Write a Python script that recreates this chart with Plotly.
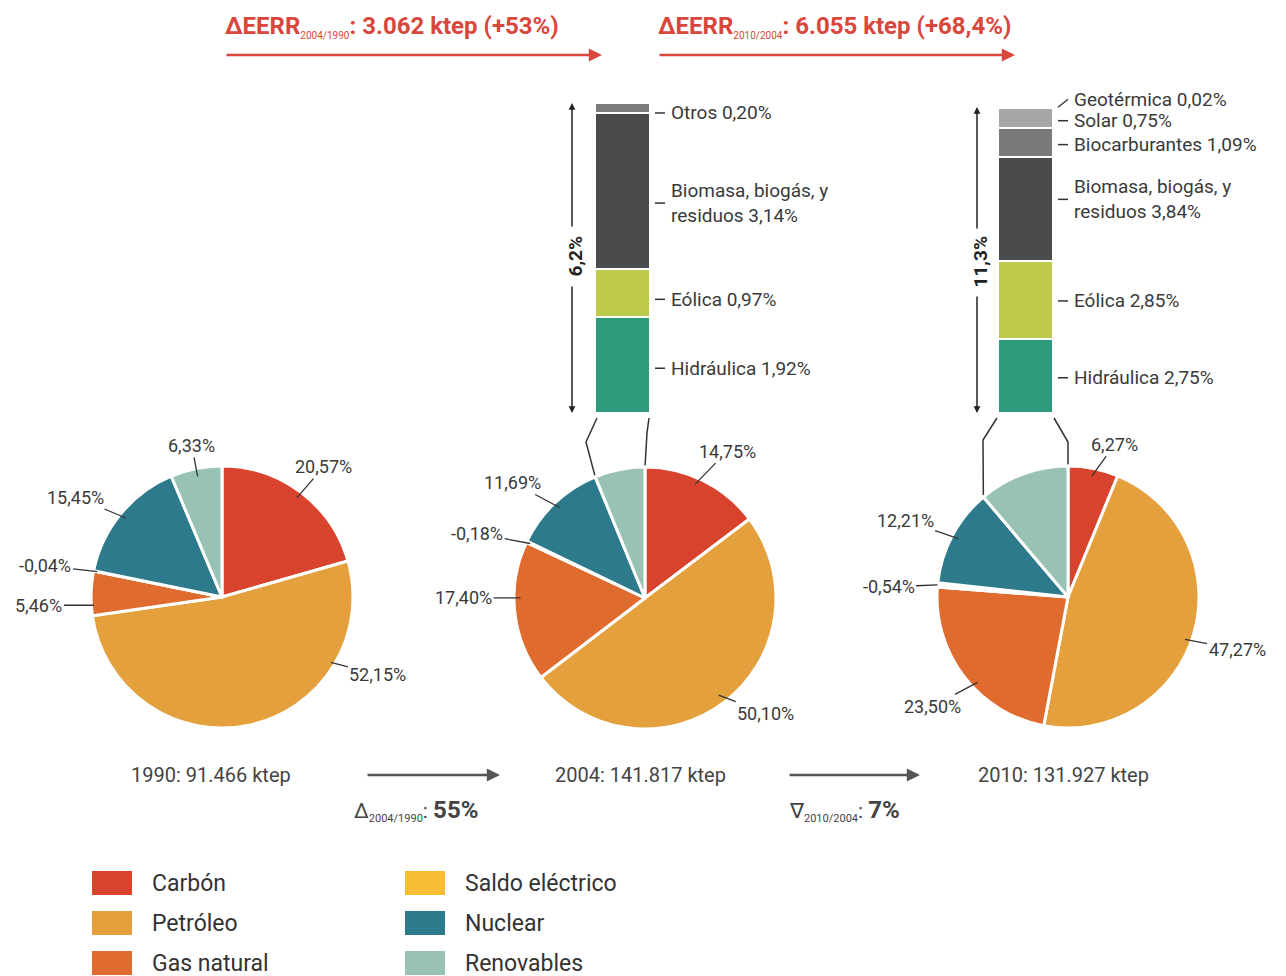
import math
import plotly.graph_objects as go

W, H = 1286, 976
FONT = "Roboto"
TXT = "#3a3a3a"

# ---- data -------------------------------------------------------------
sources = ["Carbón", "Petróleo", "Gas natural", "Saldo eléctrico", "Nuclear", "Renovables"]
source_colors = ["#D8432E", "#E5A03E", "#DF6B2E", "#F8BD35", "#2C7A8B", "#98C3B4"]

years = ["1990", "2004", "2010"]
totals_ktep = ["91.466", "141.817", "131.927"]
share_1990 = [20.57, 52.15, 5.46, -0.04, 15.45, 6.33]
share_2004 = [14.75, 50.10, 17.40, -0.18, 11.69, 6.23]
share_2010 = [6.27, 47.27, 23.50, -0.54, 12.21, 11.30]
shares = [share_1990, share_2004, share_2010]

renov_2004_labels = ["Hidráulica", "Eólica", "Biomasa, biogás, y<br>residuos", "Otros"]
renov_2004_values = [1.92, 0.97, 3.14, 0.20]
renov_2010_labels = ["Hidráulica", "Eólica", "Biomasa, biogás, y<br>residuos",
                     "Biocarburantes", "Solar", "Geotérmica"]
renov_2010_values = [2.75, 2.85, 3.84, 1.09, 0.75, 0.02]

renov_colors = {
    "Hidráulica": "#2E9A7C",
    "Eólica": "#BDCA4B",
    "Biomasa, biogás, y<br>residuos": "#4B4B4E",
    "Otros": "#7C7C7E",
    "Biocarburantes": "#79797C",
    "Solar": "#A6A6A9",
    "Geotérmica": "#D3D3D5",
}

eerr_periods = ["2004/1990", "2010/2004"]
eerr_change_ktep = ["3.062", "6.055"]
eerr_change_pct = ["+53%", "+68,4%"]

total_symbols = ["Δ", "∇"]
total_change_pct = ["55%", "7%"]


def fmt(v, nd=2):
    return f"{v:.{nd}f}".replace(".", ",")


# ---- layout geometry ----------------------------------------------------
R = 131
pie_centers = [(222, 597), (645, 598), (1068, 597)]
year_label_x = [211, 640, 1063]

# label placement per slice: (fraction along slice, radius fraction, dx, dy)
label_place = [
    [(0.5, 0.95, 27, -31), (0.25, 0.97, 47, 12), (0.23, 0.98, -55, 0),
     (0.5, 0.97, -52, -6), (0.5, 0.95, -50, -21), (0.5, 0.94, -6, -31)],
    [(0.45, 0.95, 32, -33), (0.5, 0.93, 47, 18), (0.6, 0.95, -57, 0),
     (0.5, 0.97, -53, -10), (0.5, 0.95, -47, -25), None],
    [(0.5, 0.94, 23, -32), (0.52, 0.95, 52, 10), (0.43, 0.95, -45, 24),
     (0.5, 1.0, -49, 2), (0.5, 0.95, -53, -18), None],
]

bars = [
    dict(labels=renov_2004_labels, values=renov_2004_values, x0=595, x1=650, top=103,
         bottom=413, nudges=[-3, -6, -12, -5], slant=[0, 0, 0, 0],
         meas_x=572, gap=(228, 285), kinks=((597, 418), (586, 442), (649, 418), (647, 433))),
    dict(labels=renov_2010_labels, values=renov_2010_values, x0=998, x1=1053, top=107,
         bottom=413, nudges=[-2, -1, 10, -2, -3, 0], slant=[0, 0, 0, 0, 0, 8],
         meas_x=977, gap=(230, 295), kinks=((997, 418), (983, 440), (1054, 418), (1068, 442))),
]


def slice_angles(values):
    mags = [abs(v) for v in values]
    tot = sum(mags)
    out, acc = [], 0.0
    for m in mags:
        a0 = acc / tot * 360.0
        acc += m
        out.append((a0, acc / tot * 360.0))
    return out


def pie_point(cx, cy, r, ang):
    a = math.radians(ang)
    return cx + r * math.sin(a), cy - r * math.cos(a)


fig = go.Figure()
annotations = []
shapes = []

# ---- pies -------------------------------------------------------------------
for i, vals in enumerate(shares):
    cx, cy = pie_centers[i]
    colors = [c if v >= 0 else "#FFFFFF" for v, c in zip(vals, source_colors)]
    fig.add_trace(go.Pie(
        labels=sources, values=[abs(v) for v in vals], sort=False,
        direction="clockwise", rotation=0, textinfo="none", hoverinfo="skip",
        marker=dict(colors=colors, line=dict(color="white", width=3)),
        domain=dict(x=[(cx - R) / W, (cx + R) / W], y=[1 - (cy + R) / H, 1 - (cy - R) / H]),
        showlegend=False,
    ))
    angs = slice_angles(vals)
    for j, v in enumerate(vals):
        place = label_place[i][j]
        if place is None:
            continue
        frac, rf, dx, dy = place
        a0, a1 = angs[j]
        px, py = pie_point(cx, cy, rf * R, a0 + frac * (a1 - a0))
        annotations.append(dict(
            x=px, y=py, xref="x", yref="y", ax=dx, ay=dy,
            text=fmt(v) + "%", showarrow=True, arrowhead=0, arrowwidth=1.3,
            arrowcolor="#333", standoff=0,
            font=dict(family=FONT, size=18, color=TXT),
        ))
    annotations.append(dict(
        x=year_label_x[i], y=775, xref="x", yref="y", showarrow=False,
        text=f"{years[i]}: {totals_ktep[i]} ktep",
        font=dict(family=FONT, size=20, color="#444"),
    ))

# ---- renewables breakdown bars -----------------------------------------
for k, b in enumerate(bars):
    xa, ya = f"x{k + 2}", f"y{k + 2}"
    total = sum(b["values"])
    # the value axis runs from the bar base up to the top edge of the figure
    y_max = total * b["bottom"] / (b["bottom"] - b["top"])
    fig.add_traces([
        go.Bar(x=[0], y=[v], width=1, xaxis=xa, yaxis=ya, hoverinfo="skip",
               marker=dict(color=renov_colors[lab], line=dict(color="white", width=2)),
               showlegend=False)
        for lab, v in zip(b["labels"], b["values"])
    ])
    fig.update_layout(**{
        f"xaxis{k + 2}": dict(domain=[b["x0"] / W, b["x1"] / W], range=[-0.5, 0.5],
                              visible=False, anchor=ya, fixedrange=True),
        f"yaxis{k + 2}": dict(domain=[1 - b["bottom"] / H, 1],
                              range=[0, y_max], visible=False, anchor=xa, fixedrange=True),
    })
    bw = b["x1"] - b["x0"]
    acc = 0.0
    for lab, v, nud, sl in zip(b["labels"], b["values"], b["nudges"], b["slant"]):
        mid = acc + v / 2
        acc += v
        shapes.append(dict(
            type="line", xref=f"{xa} domain", yref=ya, ysizemode="pixel", yanchor=mid,
            x0=1 + 5 / bw, x1=1 + 15 / bw, y0=nud, y1=nud + sl,
            line=dict(color="#333", width=1.5),
        ))
        annotations.append(dict(
            x=1 + 19 / bw, y=mid, xref=f"{xa} domain", yref=ya, yshift=nud + sl,
            xanchor="left", showarrow=False, align="left",
            text=f"{lab} {fmt(v)}%", font=dict(family=FONT, size=19, color=TXT),
        ))

    # total share of renewables, measured along the bar
    mx = b["meas_x"]
    g0, g1 = b["gap"]
    for head, tail in ((b["top"], g0), (b["bottom"], g1)):
        annotations.append(dict(
            x=mx, y=head, ax=mx, ay=tail, xref="x", yref="y", axref="x", ayref="y",
            text="", showarrow=True, arrowhead=2, arrowsize=0.9, arrowwidth=1.5,
            arrowcolor="#222", standoff=0,
        ))
    annotations.append(dict(
        x=mx + 3, y=(g0 + g1) / 2, xref="x", yref="y", showarrow=False, textangle=-90,
        text=f"<b>{fmt(total, 1)}%</b>", font=dict(family=FONT, size=19, color="#222"),
    ))

    # connector from bar to the renewables slice of the pie below
    cx, cy = pie_centers[k + 1]
    a0, a1 = slice_angles(shares[k + 1])[-1]
    p_left = pie_point(cx, cy, R, a0)
    p_right = pie_point(cx, cy, R, a1)
    kl0, kl1, kr0, kr1 = b["kinks"]
    for pts in ((kl0, kl1, p_left), (kr0, kr1, p_right)):
        fig.add_trace(go.Scatter(
            x=[p[0] for p in pts], y=[p[1] for p in pts], xaxis="x", yaxis="y",
            mode="lines", line=dict(color="#333", width=1.5), hoverinfo="skip",
            showlegend=False,
        ))

# ---- top arrows: change in renewables -------------------------------
top_arrows = [(225, 602), (658, 1015)]
for k, (xa0, xa1) in enumerate(top_arrows):
    annotations.append(dict(
        x=xa1, y=55, ax=xa0, ay=55, xref="x", yref="y", axref="x", ayref="y",
        text="", showarrow=True, arrowhead=2, arrowsize=1.1, arrowwidth=2.4,
        arrowcolor="#D9463B", standoff=0,
    ))
    annotations.append(dict(
        x=xa0 - 2, y=26, xref="x", yref="y", xanchor="left", showarrow=False,
        text=(f"<b>ΔEERR</b><sub><span style='font-size:10px'>{eerr_periods[k]}</span></sub>"
              f"<b>: {eerr_change_ktep[k]} ktep ({eerr_change_pct[k]})</b>"),
        font=dict(family=FONT, size=24, color="#D9463B"),
    ))

# ---- bottom arrows: change in primary energy ----------------------
bottom_arrows = [(366, 500), (788, 920)]
bottom_text_x = [352, 787]
for k, (xa0, xa1) in enumerate(bottom_arrows):
    annotations.append(dict(
        x=xa1, y=775, ax=xa0, ay=775, xref="x", yref="y", axref="x", ayref="y",
        text="", showarrow=True, arrowhead=2, arrowsize=1.1, arrowwidth=2.4,
        arrowcolor="#555", standoff=0,
    ))
    annotations.append(dict(
        x=bottom_text_x[k], y=810, xref="x", yref="y", xanchor="left", showarrow=False,
        text=(f"{total_symbols[k]}<sub><span style='font-size:11px'>{eerr_periods[k]}</span></sub>: "
              f"<b><span style='font-size:24px'>{total_change_pct[k]}</span></b>"),
        font=dict(family=FONT, size=21, color="#444"),
    ))

# ---- key ----------------------------------------------------------------
key_cols = [92, 405]
key_rows = [883, 923, 963]
for idx, (name, col) in enumerate(zip(sources, source_colors)):
    c, r = divmod(idx, 3)
    x0, yc = key_cols[c], key_rows[r]
    shapes.append(dict(type="rect", xref="x", yref="y", x0=x0, x1=x0 + 40,
                       y0=yc - 12, y1=yc + 12, fillcolor=col, line=dict(width=0)))
    annotations.append(dict(
        x=x0 + 58, y=yc, xref="x", yref="y", xanchor="left", showarrow=False,
        text=name, font=dict(family=FONT, size=23, color="#333"),
    ))

fig.update_layout(
    width=W, height=H, margin=dict(l=0, r=0, t=0, b=0),
    paper_bgcolor="white", plot_bgcolor="rgba(0,0,0,0)",
    barmode="stack", bargap=0,
    xaxis=dict(domain=[0, 1], range=[0, W], visible=False, fixedrange=True),
    yaxis=dict(domain=[0, 1], range=[H, 0], visible=False, fixedrange=True),
    annotations=annotations, shapes=shapes, showlegend=False,
)

fig.write_html("out.html", config={"displayModeBar": False})
